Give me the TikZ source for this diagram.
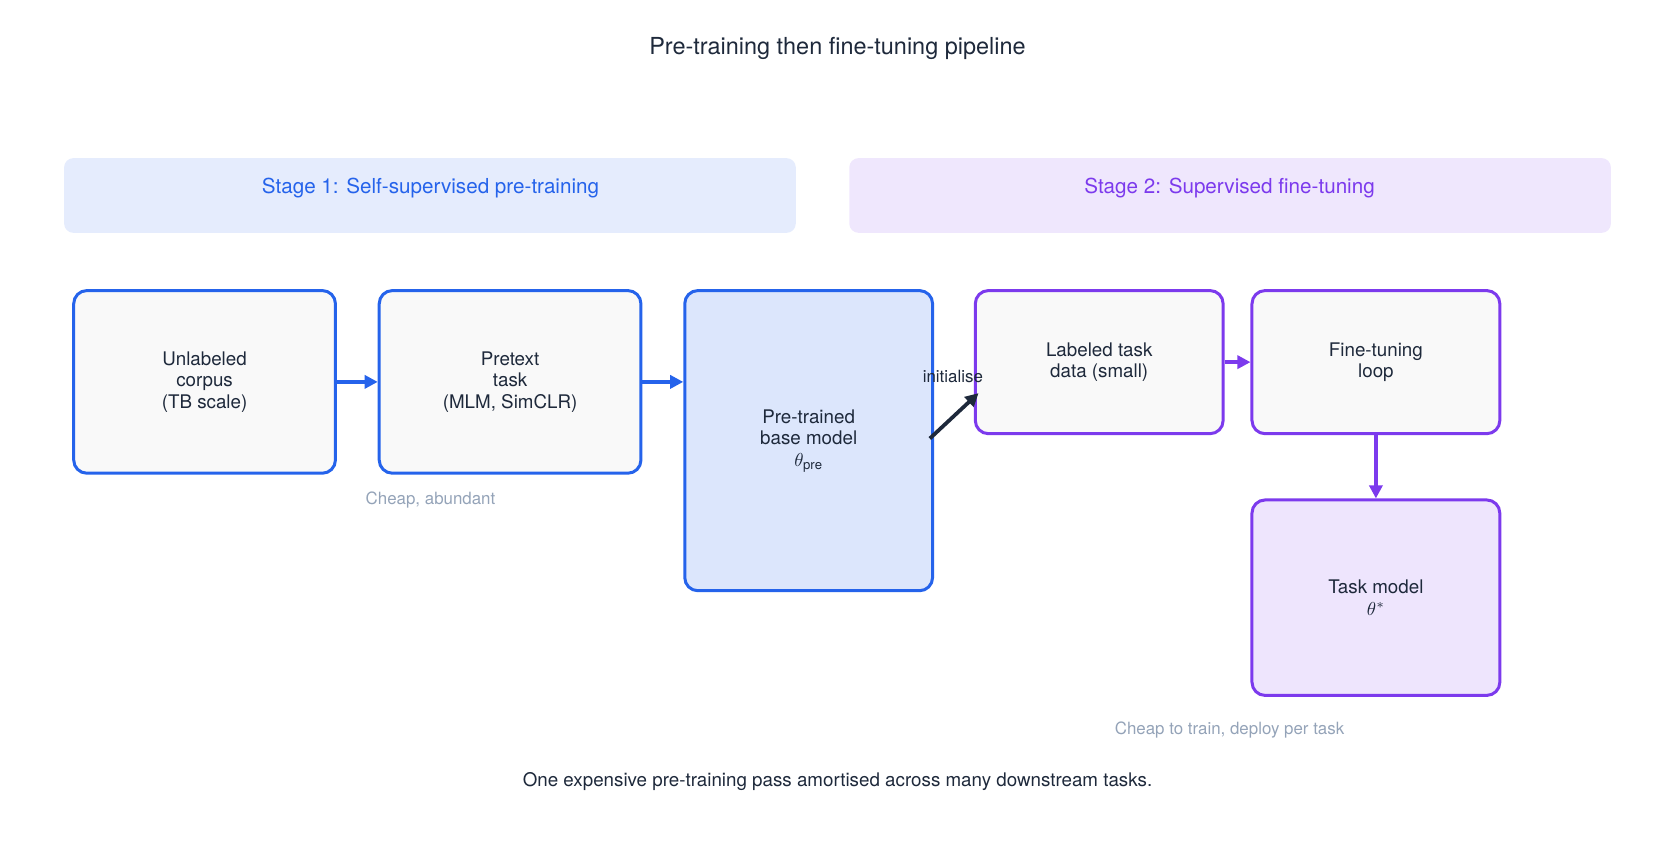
\documentclass[tikz,border=0pt]{standalone}
\usepackage{fontspec}
\setmainfont{TeX Gyre Heros}
\usetikzlibrary{positioning,calc,arrows.meta}
\definecolor{ink}{HTML}{1E293B}
\definecolor{blueC}{HTML}{2563EB}
\definecolor{violetC}{HTML}{7C3AED}
\definecolor{noteC}{HTML}{94A3B8}
\definecolor{boxF}{HTML}{F9F9F9}
\tikzset{
  box/.style={draw, line width=1.6pt, rounded corners=7pt, fill=boxF, text=ink,
    align=center, font=\fontsize{10}{11.5}\selectfont, inner sep=0pt},
  band/.style={rounded corners=5pt, inner sep=0pt, font=\fontsize{11}{13}\selectfont},
  note/.style={text=noteC, font=\fontsize{9}{11}\selectfont},
  flow/.style={line width=1.8pt, -{Triangle[length=7pt,width=7pt]}},
}
\begin{document}
\begin{tikzpicture}[x=0.02cm,y=-0.02cm]
\useasboundingbox (0,0) rectangle (1568,791);

\node [text=ink, font=\fontsize{12.5}{14}\selectfont] (title) at (784,45) {Pre-training then fine-tuning pipeline};

% stage bands
\node [band, fill=blueC!12, text=blueC, minimum width=685*0.02cm, minimum height=70*0.02cm] (s1) at (402.5,183) {};
\node [text=blueC, font=\fontsize{11}{13}\selectfont] (s1t) at (403,176) {Stage 1: Self-supervised pre-training};
\node [band, fill=violetC!12, minimum width=713*0.02cm, minimum height=70*0.02cm] (s2) at (1151.5,183) {};
\node [text=violetC, font=\fontsize{11}{13}\selectfont] (s2t) at (1151,176) {Stage 2: Supervised fine-tuning};

% boxes
\node [box, draw=blueC, minimum width=245*0.02cm, minimum height=171*0.02cm] (corpus) at (191.5,357.5) {Unlabeled\\corpus\\(TB scale)};
\node [box, draw=blueC, minimum width=245*0.02cm, minimum height=171*0.02cm] (pretext) at (477.5,357.5) {Pretext\\task\\(MLM, SimCLR)};
\node [box, draw=blueC, fill=blueC!16, minimum width=232*0.02cm, minimum height=281*0.02cm] (base) at (757,412.5) {Pre-trained\\base model\\$\theta_{\mathrm{pre}}$};
\node [box, draw=violetC, minimum width=232*0.02cm, minimum height=134*0.02cm] (data) at (1029,339) {Labeled task\\data (small)};
\node [box, draw=violetC, minimum width=232*0.02cm, minimum height=134*0.02cm] (loop) at (1288,339) {Fine-tuning\\loop};
\node [box, draw=violetC, fill=violetC!13, minimum width=232*0.02cm, minimum height=183*0.02cm] (taskm) at (1288,559.5) {Task model\\$\theta^{*}$};

% connectors
\draw [flow, blueC] (corpus.east) -- (pretext.west);
\draw [flow, blueC] (pretext.east) -- (pretext.east -| base.west);
\coordinate (init) at (916,368);
\draw [flow, ink, line width=2pt] ($(base.east)+(-4,-2)$) -- (init);
\node [text=ink, font=\fontsize{9}{11}\selectfont] (initl) at (892,352) {initialise};
\draw [flow, violetC] (data.east) -- (loop.west);
\draw [flow, violetC] (loop.south) -- (taskm.north);

% notes
\node [note] (n1) at (403,468) {Cheap, abundant};
\node [note] (n2) at (1151,683) {Cheap to train, deploy per task};
\node [text=ink, font=\fontsize{10}{12}\selectfont] (foot) at (784,732) {One expensive pre-training pass amortised across many downstream tasks.};
\end{tikzpicture}
\end{document}
